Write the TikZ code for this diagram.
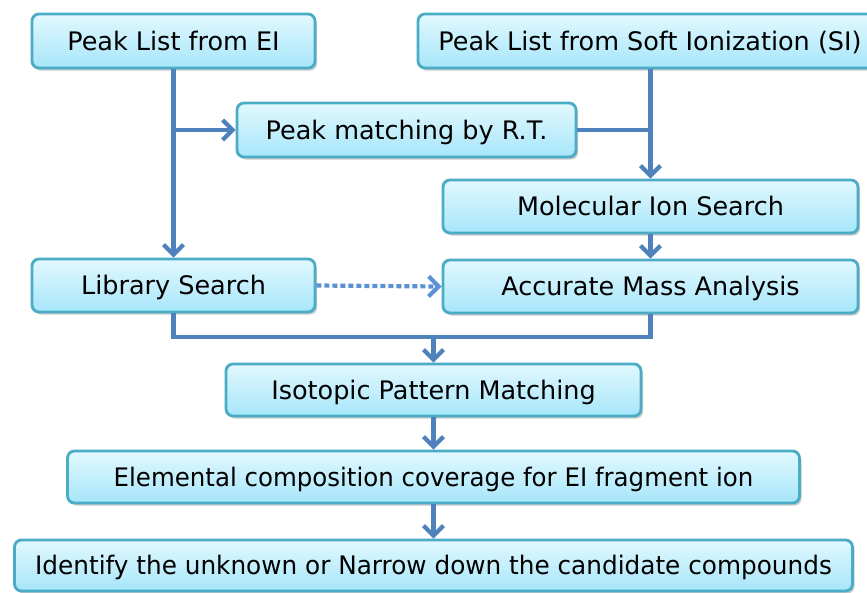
\documentclass[tikz,border=0pt]{standalone}
\usepackage{fontspec}
\setmainfont{DejaVu Sans}
\usetikzlibrary{arrows.meta,shadows,positioning}
\definecolor{lineblue}{HTML}{4F81BD}
\definecolor{dotblue}{HTML}{5B8FD6}
\definecolor{boxborder}{HTML}{4BACC6}
\definecolor{boxtop}{HTML}{E2F8FE}
\definecolor{boxbot}{HTML}{A6E6FA}
\tikzset{
  box/.style={draw=boxborder, line width=2.8pt, rounded corners=7pt,
    top color=boxtop, bottom color=boxbot, inner sep=0pt,
    font=\fontsize{25.5}{29}\selectfont, text=black, text depth=1pt,
    drop shadow={shadow xshift=2pt, shadow yshift=-2.5pt, opacity=0.3, fill=black!70}},
  conn/.style={draw=lineblue, line width=4.2pt},
  arr/.style={conn, -{Straight Barb[length=10pt,width=20pt,line width=4.2pt]}},
  dotarr/.style={draw=dotblue, line width=4.2pt, dash pattern=on 5pt off 3pt,
    -{Straight Barb[length=10pt,width=20pt,line width=4.2pt]}}
}
\begin{document}
\begin{tikzpicture}[x=1pt,y=-1pt]
\useasboundingbox (0,0) rectangle (867,592);
\node[box, minimum width=283pt, minimum height=54pt] (ei) at (173.5,41) {Peak List from EI};
\node[box, minimum width=464pt, minimum height=54pt] (si) at (650,41) {Peak List from Soft Ionization (SI)};
\node[box, minimum width=339pt, minimum height=54pt] (pm) at (406.5,130) {Peak matching by R.T.};
\node[box, minimum width=415pt, minimum height=53pt] (mol) at (650.5,206.5) {Molecular Ion Search};
\node[box, minimum width=283pt, minimum height=53pt] (lib) at (173.5,285.5) {Library Search};
\node[box, minimum width=415pt, minimum height=53pt] (acc) at (650.5,286.5) {Accurate Mass Analysis};
\node[box, minimum width=415pt, minimum height=52pt] (iso) at (433.5,390) {Isotopic Pattern Matching};
\node[box, minimum width=732pt, minimum height=52pt] (ele) at (433.5,477) {\scalebox{0.96}[1]{Elemental composition coverage for EI fragment ion}};
\node[box, minimum width=838pt, minimum height=51pt] (idn) at (433.5,565.5) {\scalebox{0.97}[1]{Identify the unknown or Narrow down the candidate compounds}};
\coordinate (m) at (433.5,337);
% connectors
\draw[arr] (ei.south) -- (lib.north);
\draw[arr] (ei.south |- pm.west) -- (pm.west);
\draw[arr] (mol.north |- si.south) -- (mol.north);
\draw[conn] (pm.east) -- (pm.east -| mol.north);
\draw[arr] (mol.south) -- (acc.north);
\draw[dotarr] (lib.east) -- (acc.west);
\draw[conn] (lib.south) |- (m) -| (acc.south);
\draw[arr] (m) -- (iso.north);
\draw[arr] (iso.south) -- (ele.north);
\draw[arr] (ele.south) -- (idn.north);
\end{tikzpicture}
\end{document}
